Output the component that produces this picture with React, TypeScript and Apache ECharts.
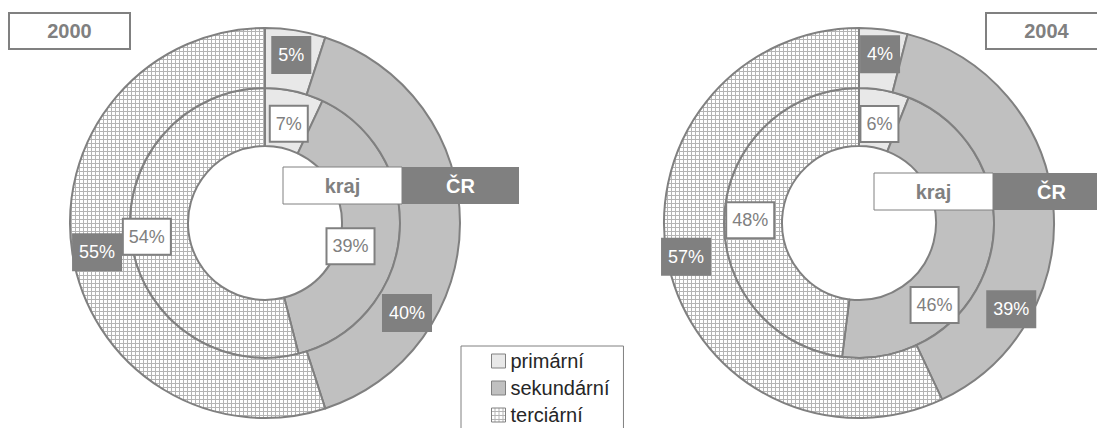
import React, { useEffect, useRef } from "react";
import * as echarts from "echarts";

const categories = ["primární", "sekundární", "terciární"];
const kraj2000 = [7, 39, 54];
const cr2000 = [5, 40, 55];
const kraj2004 = [6, 46, 48];
const cr2004 = [4, 39, 57];
const years = ["2000", "2004"];
const ringNames = ["kraj", "ČR"];

// label nudges (dx, dy) per series / slice, styling only
const labelNudges = [
  [[0, 7], [-23, 13], [-10, 0]],
  [[0, -2], [-26, 90], [-2, 3]],
  [[0, 8], [-30, 55], [0, 4]],
  [[0, -2], [-15, 102], [-9, -3]],
];

const FONT = "'Liberation Sans', Arial, Helvetica, sans-serif";
const GRAY = "#808080";

function makePattern(): HTMLCanvasElement {
  const c = document.createElement("canvas");
  c.width = 4;
  c.height = 4;
  const ctx = c.getContext("2d")!;
  ctx.fillStyle = "#ffffff";
  ctx.fillRect(0, 0, 4, 4);
  ctx.fillStyle = "#b4b4b4";
  ctx.fillRect(3, 0, 1, 4);
  ctx.fillRect(0, 3, 4, 1);
  return c;
}

export default function App() {
  const ref = useRef<HTMLDivElement>(null);
  useEffect(() => {
    document.body.style.margin = "0";
    if (!ref.current) return;
    const chart = echarts.init(ref.current, undefined, { renderer: "svg" });
    const pattern = makePattern();
    const colors: any[] = [
      "#e8e8e8",
      "#c0c0c0",
      { image: pattern, repeat: "repeat" },
    ];

    const mkData = (vals: number[]) =>
      vals.map((v, i) => ({
        name: categories[i],
        value: v,
        itemStyle: { color: colors[i] },
      }));

    const innerLabel = {
      show: true,
      position: "inside",
      formatter: "{c}%",
      fontFamily: FONT,
      fontSize: 18,
      lineHeight: 20,
      color: GRAY,
      backgroundColor: "#ffffff",
      borderColor: GRAY,
      borderWidth: 2,
      padding: [7, 5, 7, 5],
    };
    const outerLabel = {
      show: true,
      position: "inside",
      formatter: "{c}%",
      fontFamily: FONT,
      fontSize: 18,
      lineHeight: 20,
      color: "#ffffff",
      backgroundColor: GRAY,
      padding: [9, 7, 9, 7],
    };

    const mkSeries = (
      idx: number,
      vals: number[],
      center: number[],
      radius: number[],
      label: any
    ) => ({
      type: "pie",
      name: ringNames[idx % 2] + " " + years[Math.floor(idx / 2)],
      center,
      radius,
      startAngle: 90,
      clockwise: true,
      avoidLabelOverlap: false,
      silent: true,
      label,
      labelLine: { show: false },
      labelLayout: (p: any) => {
        const n = labelNudges[idx][p.dataIndex];
        return { dx: n[0], dy: n[1] };
      },
      itemStyle: { borderColor: GRAY, borderWidth: 2 },
      emphasis: { disabled: true },
      data: mkData(vals),
    });

    const leftC = [265, 223];
    const rightC = [859, 223];
    const innerR = [77, 135];
    const outerR = [135, 195];

    const titleBox = (x: number, text: string) => ({
      type: "group",
      z: 100,
      children: [
        {
          type: "rect",
          shape: { x, y: 13, width: 121, height: 36 },
          style: { fill: "#ffffff", stroke: GRAY, lineWidth: 2 },
          z: 100,
        },
        {
          type: "text",
          x: x + 60.5,
          y: 31,
          style: {
            text,
            fill: GRAY,
            font: `bold 20px ${FONT}`,
            align: "center",
            verticalAlign: "middle",
          },
          z: 101,
        },
      ],
    });

    const ringKey = (x: number, y: number) => ({
      type: "group",
      z: 100,
      children: [
        {
          type: "rect",
          shape: { x, y, width: 119, height: 37 },
          style: { fill: "#ffffff", stroke: GRAY, lineWidth: 1 },
          z: 100,
        },
        {
          type: "rect",
          shape: { x: x + 119, y, width: 117, height: 37 },
          style: { fill: GRAY },
          z: 100,
        },
        {
          type: "text",
          x: x + 59.5,
          y: y + 19,
          style: {
            text: ringNames[0],
            fill: GRAY,
            font: `bold 20px ${FONT}`,
            align: "center",
            verticalAlign: "middle",
          },
          z: 101,
        },
        {
          type: "text",
          x: x + 119 + 58.5,
          y: y + 19,
          style: {
            text: ringNames[1],
            fill: "#ffffff",
            font: `bold 20px ${FONT}`,
            align: "center",
            verticalAlign: "middle",
          },
          z: 101,
        },
      ],
    });

    chart.setOption({
      animation: false,
      backgroundColor: "#ffffff",
      legend: {
        orient: "vertical",
        left: 461,
        top: 346,
        height: 200,
        data: categories,
        icon: "rect",
        itemWidth: 14,
        itemHeight: 14,
        itemGap: 7,
        padding: [5, 14, 12, 30],
        borderColor: GRAY,
        borderWidth: 1,
        backgroundColor: "#ffffff",
        selectedMode: false,
        itemStyle: { borderColor: GRAY, borderWidth: 1 },
        textStyle: { fontFamily: FONT, fontSize: 20, color: "#262626", lineHeight: 20 },
      },
      series: [
        mkSeries(0, kraj2000, leftC, innerR, innerLabel),
        mkSeries(1, cr2000, leftC, outerR, outerLabel),
        mkSeries(2, kraj2004, rightC, innerR, innerLabel),
        mkSeries(3, cr2004, rightC, outerR, outerLabel),
      ],
      graphic: [
        titleBox(9, years[0]),
        titleBox(986, years[1]),
        ringKey(283, 167),
        ringKey(874, 173),
      ],
    });
    return () => chart.dispose();
  }, []);
  return <div ref={ref} style={{ width: 1097, height: 428 }} />;
}
